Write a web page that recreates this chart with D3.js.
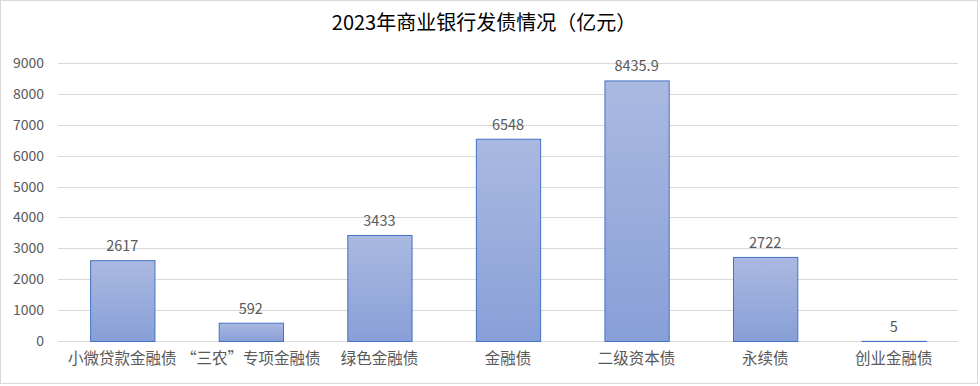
<!DOCTYPE html>
<html>
<head>
<meta charset="utf-8">
<script src="https://cdn.jsdelivr.net/npm/d3@7"></script>
<style>
  body { margin: 0; background: #fff; }
  svg { display: block; font-family: "Microsoft YaHei", "Noto Sans CJK SC", sans-serif; }
</style>
</head>
<body>
<div id="chart"></div>
<script>
'use strict';

var categories = ['小微贷款金融债', '\u201C三农\u201D专项金融债', '绿色金融债', '金融债', '二级资本债', '永续债', '创业金融债'];
var values = [2617, 592, 3433, 6548, 8435.9, 2722, 5];
var yTicks = [0, 1000, 2000, 3000, 4000, 5000, 6000, 7000, 8000, 9000];

var width = 980, height = 386;
var plotLeft = 58, plotRight = 958, plotTop = 63, plotBottom = 341;
var labelFont = '"Microsoft YaHei", "Noto Sans CJK SC", sans-serif';

var svg = d3.select('#chart')
    .append('svg')
    .attr('width', width)
    .attr('height', height);

var defs = svg.append('defs');
var grad = defs.append('linearGradient')
    .attr('id', 'barFill')
    .attr('x1', 0).attr('y1', 0).attr('x2', 0).attr('y2', 1);
grad.append('stop').attr('offset', '0%').attr('stop-color', '#aab9e1');
grad.append('stop').attr('offset', '100%').attr('stop-color', '#889fd7');

svg.append('rect')
    .attr('x', 0.5).attr('y', 0.5)
    .attr('width', width - 3).attr('height', height - 3)
    .attr('fill', '#fff')
    .attr('stroke', '#d9d9d9');

svg.append('text')
    .attr('x', 484).attr('y', 30)
    .attr('text-anchor', 'middle')
    .attr('font-size', 20)
    .attr('fill', '#000')
    .text('2023年商业银行发债情况（亿元）');

var x = d3.scaleBand()
    .domain(categories)
    .range([plotLeft, plotRight])
    .paddingInner(0.5)
    .paddingOuter(0.25);

var y = d3.scaleLinear()
    .domain([0, 9000])
    .range([plotBottom, plotTop]);

// gridlines
svg.append('g')
    .selectAll('line')
    .data(yTicks)
    .enter()
    .append('line')
    .attr('x1', plotLeft).attr('x2', plotRight)
    .attr('y1', function (d) { return Math.round(y(d)) + 0.5; })
    .attr('y2', function (d) { return Math.round(y(d)) + 0.5; })
    .attr('stroke', '#d9d9d9')
    .attr('stroke-width', 1);

// y axis labels
var yAxis = d3.axisLeft(y).tickValues(yTicks).tickFormat(d3.format('d')).tickSize(0).tickPadding(14);
var yg = svg.append('g')
    .attr('transform', 'translate(' + plotLeft + ',0)')
    .call(yAxis);
yg.select('.domain').remove();
yg.selectAll('text')
    .attr('font-size', 14)
    .attr('fill', '#595959')
    .style('font-family', labelFont);

// x axis labels
var xAxis = d3.axisBottom(x).tickSize(0).tickPadding(12);
var xg = svg.append('g')
    .attr('transform', 'translate(0,' + plotBottom + ')')
    .call(xAxis);
xg.select('.domain').remove();
xg.selectAll('text')
    .attr('font-size', 15.5)
    .attr('fill', '#595959')
    .style('font-family', labelFont);

// bars
svg.append('g')
    .selectAll('rect')
    .data(values)
    .enter()
    .append('rect')
    .attr('x', function (d, i) { return x(categories[i]) + 0.5; })
    .attr('y', function (d) { return y(d) + 0.5; })
    .attr('width', x.bandwidth())
    .attr('height', function (d) { return Math.max(0, plotBottom - y(d)); })
    .attr('fill', 'url(#barFill)')
    .attr('stroke', '#4472c4')
    .attr('stroke-width', 1);

// data labels
svg.append('g')
    .selectAll('text')
    .data(values)
    .enter()
    .append('text')
    .attr('x', function (d, i) { return x(categories[i]) + x.bandwidth() / 2; })
    .attr('y', function (d) { return y(d) - 9; })
    .attr('text-anchor', 'middle')
    .attr('font-size', 14.5)
    .attr('fill', '#595959')
    .text(function (d) { return d; });
</script>
</body>
</html>
